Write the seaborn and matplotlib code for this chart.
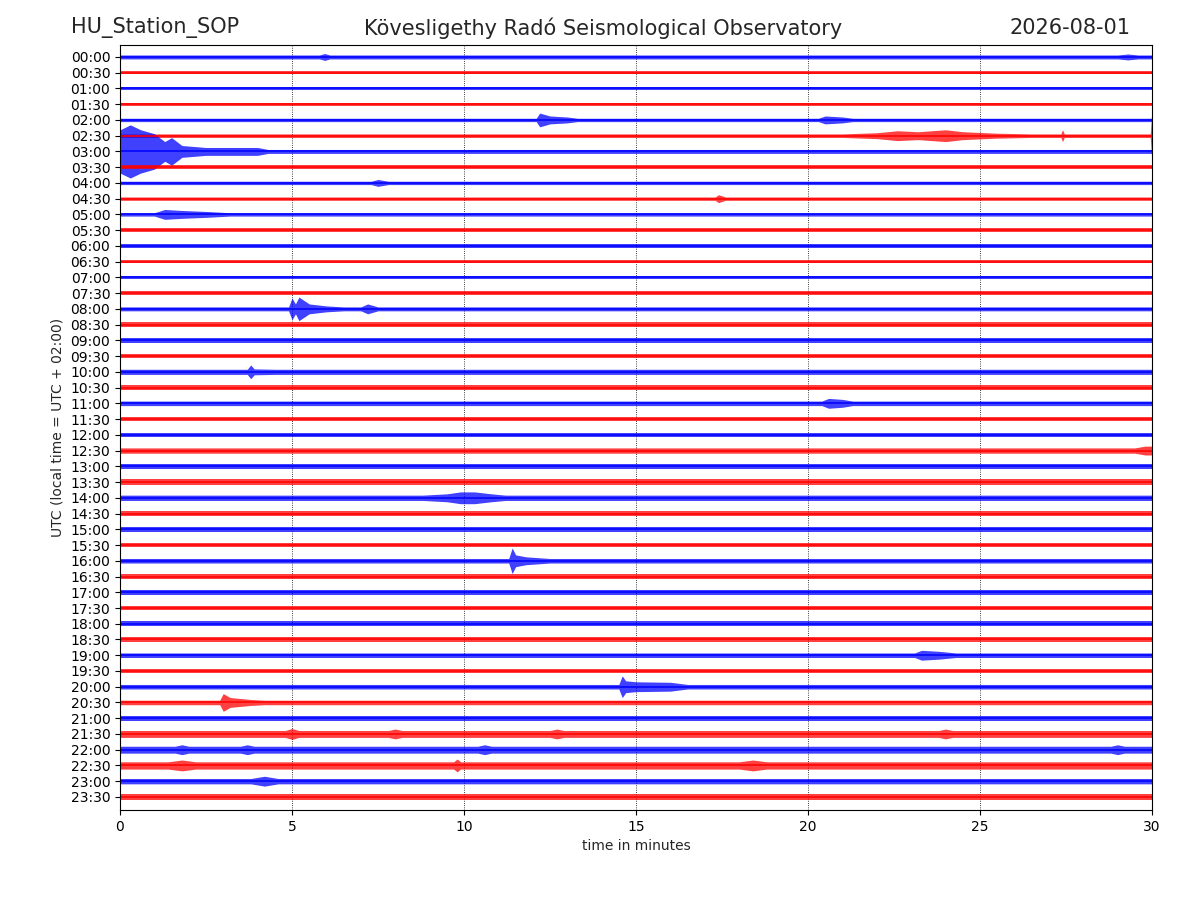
import matplotlib
matplotlib.use("Agg")
import matplotlib.pyplot as plt
import seaborn as sns
import pandas as pd

sns.set_style("ticks")
plt.rcParams['font.family'] = ['DejaVu Sans']

station = 'HU_Station_SOP'
observatory = 'Kövesligethy Radó Seismological Observatory'
day = '2026-08-01'

row_labels = ['00:00', '00:30', '01:00', '01:30', '02:00', '02:30', '03:00', '03:30',
              '04:00', '04:30', '05:00', '05:30', '06:00', '06:30', '07:00', '07:30',
              '08:00', '08:30', '09:00', '09:30', '10:00', '10:30', '11:00', '11:30',
              '12:00', '12:30', '13:00', '13:30', '14:00', '14:30', '15:00', '15:30',
              '16:00', '16:30', '17:00', '17:30', '18:00', '18:30', '19:00', '19:30',
              '20:00', '20:30', '21:00', '21:30', '22:00', '22:30', '23:00', '23:30']

# background noise half-amplitude per row (1 row spacing = 16 units)
noise = [2.0, 1.7, 1.7, 1.7, 1.7, 1.8, 2.0, 1.8,
         1.7, 1.7, 1.7, 1.7, 1.7, 1.7, 1.9, 1.9,
         2.0, 2.3, 2.3, 2.3, 2.6, 2.3, 2.3, 2.3,
         2.3, 2.7, 2.7, 2.7, 2.7, 2.7, 2.3, 2.3,
         2.3, 2.5, 2.5, 2.3, 2.3, 2.3, 2.3, 2.3,
         2.3, 2.3, 2.7, 3.5, 3.5, 3.7, 2.7, 2.7]

# envelope knots (minute, half-amplitude) of the visible events and bursts
events = {
    0: [(5.8, 2.0), (5.95, 3.5), (6.1, 2.0), (29.0, 2.0), (29.3, 3.0), (29.6, 2.0)],
    4: [(12.1, 1.7), (12.2, 7.0), (12.5, 4.0), (13.0, 3.0), (13.3, 1.7),
        (20.3, 1.7), (20.5, 4.0), (21.0, 3.0), (21.3, 1.7)],
    5: [(21.0, 1.8), (22.0, 3.0), (22.6, 5.0), (23.2, 4.0), (24.0, 6.0), (24.5, 4.0),
        (25.5, 2.5), (26.5, 1.8), (27.35, 1.8), (27.4, 6.0), (27.45, 1.8),
        (29.95, 1.8), (30.0, 28.0)],
    6: [(0.0, 22.0), (0.3, 27.0), (0.6, 22.0), (1.0, 18.0), (1.3, 10.0), (1.5, 14.0),
        (1.8, 6.0), (2.5, 4.0), (3.2, 4.0), (4.0, 4.0), (4.3, 2.0)],
    8: [(7.3, 1.7), (7.5, 3.5), (7.8, 1.7)],
    9: [(17.3, 1.7), (17.4, 4.0), (17.6, 1.7)],
    10: [(1.0, 1.7), (1.3, 5.0), (1.8, 4.0), (2.5, 3.0), (3.2, 1.7)],
    16: [(4.9, 2.0), (5.0, 11.0), (5.1, 5.0), (5.2, 12.0), (5.5, 5.0), (6.0, 3.0),
         (6.5, 2.0), (7.0, 2.0), (7.2, 5.0), (7.5, 2.0)],
    20: [(3.7, 2.6), (3.8, 7.0), (3.9, 3.0), (4.5, 2.6)],
    22: [(20.4, 2.3), (20.6, 5.0), (21.0, 4.0), (21.3, 2.3)],
    25: [(29.5, 2.7), (29.8, 4.5), (30.0, 4.5)],
    28: [(8.8, 2.7), (9.5, 4.0), (9.9, 6.0), (10.3, 6.0), (10.8, 4.0), (11.2, 2.7)],
    32: [(11.3, 2.3), (11.4, 13.0), (11.5, 6.0), (11.8, 4.0), (12.5, 2.3)],
    38: [(23.1, 2.3), (23.3, 5.0), (23.8, 4.0), (24.3, 2.3)],
    40: [(14.5, 2.3), (14.6, 11.0), (14.7, 6.0), (15.0, 5.0), (16.0, 4.5), (16.5, 2.3)],
    41: [(2.9, 2.3), (3.0, 9.0), (3.2, 5.0), (3.8, 3.0), (4.2, 2.3)],
    43: [(4.8, 3.5), (5.0, 5.5), (5.2, 3.5), (7.8, 3.5), (8.0, 5.0), (8.2, 3.5),
         (12.5, 3.5), (12.7, 5.0), (12.9, 3.5), (23.8, 3.5), (24.0, 5.0), (24.2, 3.5)],
    44: [(1.6, 3.5), (1.8, 5.0), (2.0, 3.5), (3.5, 3.5), (3.7, 5.0), (3.9, 3.5),
         (10.4, 3.5), (10.6, 5.0), (10.8, 3.5), (28.8, 3.5), (29.0, 5.0), (29.2, 3.5)],
    45: [(1.4, 3.7), (1.8, 5.5), (2.2, 3.7), (9.7, 3.7), (9.8, 6.5), (9.9, 3.7),
         (18.0, 3.7), (18.4, 5.5), (18.8, 3.7)],
    46: [(3.8, 2.7), (4.2, 5.0), (4.6, 2.7)],
}

colors = ['#0000ff', '#ff0000']
row_unit = 16.0


def knots_for(row):
    pts = list(events.get(row, []))
    if not pts or pts[0][0] > 0:
        pts = [(0.0, noise[row])] + pts
    if pts[-1][0] < 30:
        pts = pts + [(30.0, noise[row])]
    return pts


records = []
for i in range(len(row_labels)):
    for t, a in knots_for(i):
        records.append({'row': i, 'minute': t, 'amp': a / row_unit})
df = pd.DataFrame(records)

fig = plt.figure(figsize=(12, 9), dpi=100)
ax = fig.add_axes([0.1, 0.1, 0.86, 0.85])

for i in range(len(row_labels)):
    d = df[df['row'] == i]
    c = colors[i % 2]
    ax.fill_between(d['minute'], i - d['amp'], i + d['amp'], color=c, alpha=0.75, linewidth=0)

df['center'] = df['row'].astype(float)
sns.lineplot(data=df, x='minute', y='center', hue='row', units='row', estimator=None,
             palette=[colors[i % 2] for i in range(len(row_labels))],
             legend=False, linewidth=1.1, ax=ax)

ax.set_xlim(0, 30)
ax.set_ylim(47.83, -0.76)
ax.set_xticks([0, 5, 10, 15, 20, 25, 30])
ax.set_yticks(range(len(row_labels)))
ax.set_yticklabels(row_labels)
ax.grid(axis='x', linestyle=':', color='k', linewidth=0.6)
ax.grid(axis='y', visible=False)
ax.set_xlabel('time in minutes')
ax.set_ylabel('UTC (local time = UTC + 02:00)')
for s in ax.spines.values():
    s.set_visible(True)
    s.set_color('k')
ax.tick_params(direction='out', colors='k')

fig.text(0.059, 0.969, station, fontsize=15, ha='left', va='center')
fig.text(0.503, 0.969, observatory, fontsize=15, ha='center', va='center')
fig.text(0.942, 0.969, day, fontsize=15, ha='right', va='center')

fig.savefig('out.png', dpi=100)
